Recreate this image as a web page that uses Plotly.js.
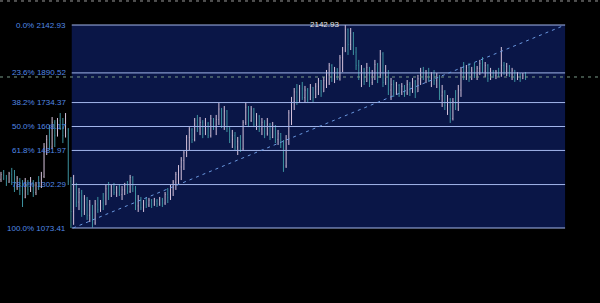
<!DOCTYPE html>
<html>
<head>
<meta charset="utf-8">
<script src="https://cdn.plot.ly/plotly-3.0.1.min.js"></script>
<style>html,body{margin:0;padding:0;background:#000;}#chart{width:600px;height:303px;}</style>
</head>
<body>
<div id="chart"></div>
<script>
// ---- data ----
const openP = [
1330,1350,1335,1315,1355,1320,1290,1330,1300,1235,
1305,1275,1320,1260,1300,1290,1345,1500,1540,1500,
1630,1560,1640,1600,1560,1590,1320,1160,1290,1210,
1255,1165,1225,1140,1190,1100,1195,1170,1205,1195,
1280,1240,1290,1260,1285,1250,1275,1300,1265,1340,
1280,1190,1220,1180,1205,1195,1220,1195,1215,1200,
1225,1205,1250,1235,1285,1315,1355,1395,1430,1470,
1550,1590,1540,1640,1600,1630,1570,1625,1560,1650,
1605,1645,1700,1620,1690,1600,1540,1560,1500,1530,
1490,1630,1710,1640,1700,1620,1660,1595,1630,1570,
1620,1550,1610,1540,1570,1510,1400,1540,1680,1740,
1790,1745,1810,1760,1800,1750,1815,1760,1820,1850,
1790,1850,1880,1930,1870,1910,1860,1970,2010,2120,
2040,2100,2000,1930,1880,1910,1845,1920,1840,1890,
1935,1870,1990,1840,1900,1800,1830,1785,1825,1790,
1820,1785,1830,1795,1845,1790,1860,1900,1870,1890,
1860,1880,1850,1870,1770,1790,1720,1750,1650,1740,
1700,1800,1900,1870,1920,1860,1905,1880,1915,1940,
1900,1930,1860,1895,1875,1895,1880,1930,1900,1925,
1885,1905,1865,1880,1860,1875];
const highP = [
1369,1379,1353,1369,1390,1379,1347,1337,1326,1337,
1326,1342,1326,1316,1347,1369,1521,1563,1616,1658,
1642,1653,1679,1653,1679,1600,1342,1353,1311,1284,
1274,1247,1237,1221,1195,1221,1237,1221,1258,1300,
1316,1300,1311,1295,1305,1295,1311,1321,1353,1347,
1295,1247,1237,1221,1237,1232,1226,1232,1226,1237,
1232,1263,1284,1300,1326,1369,1405,1447,1484,1563,
1605,1600,1653,1669,1658,1642,1653,1632,1669,1653,
1669,1732,1706,1716,1695,1605,1590,1579,1553,1563,
1642,1737,1716,1716,1706,1679,1669,1653,1642,1653,
1627,1632,1616,1590,1574,1537,1563,1695,1764,1811,
1832,1827,1843,1822,1811,1832,1816,1837,1864,1853,
1869,1906,1943,1937,1922,1916,1985,2027,2142.93,2125,
2127,2106,2027,1959,1932,1917,1943,1922,1906,1959,
1943,2011,2000,1932,1906,1864,1853,1843,1832,1837,
1827,1853,1843,1864,1853,1880,1917,1922,1906,1917,
1895,1906,1890,1880,1827,1800,1774,1758,1758,1800,
1827,1922,1948,1932,1943,1922,1943,1927,1959,1974,
1948,1937,1917,1906,1906,1917,2027,1948,1943,1932,
1917,1906,1895,1890,1890,1895];
const lowP = [
1316,1326,1295,1311,1300,1263,1274,1247,1184,1230,
1247,1263,1237,1247,1274,1284,1337,1458,1484,1490,
1500,1555,1590,1521,1550,1300,1073.41,1090,1184,1168,
1132,1142,1116,1105,1076,1090,1153,1158,1168,1195,
1221,1237,1247,1237,1242,1221,1247,1253,1258,1263,
1168,1158,1168,1158,1179,1184,1179,1190,1184,1190,
1184,1195,1205,1221,1242,1274,1300,1326,1379,1447,
1484,1521,1530,1579,1563,1547,1563,1547,1550,1590,
1563,1616,1600,1590,1579,1521,1495,1484,1458,1474,
1480,1616,1605,1632,1605,1590,1579,1563,1547,1560,
1537,1547,1521,1511,1495,1369,1390,1511,1616,1695,
1722,1732,1748,1732,1737,1748,1737,1758,1774,1764,
1790,1811,1827,1843,1837,1853,1850,1895,2000,1985,
2011,1985,1906,1853,1816,1827,1843,1816,1827,1853,
1837,1864,1816,1827,1774,1748,1764,1774,1764,1774,
1764,1774,1769,1785,1758,1790,1827,1853,1837,1843,
1816,1827,1811,1748,1711,1695,1669,1627,1640,1695,
1690,1764,1853,1853,1843,1853,1864,1853,1880,1890,
1869,1843,1853,1864,1858,1869,1870,1880,1874,1869,
1853,1843,1853,1843,1858,1853];
const closeP = [
1355,1335,1310,1360,1320,1290,1335,1270,1230,1310,
1275,1320,1260,1300,1290,1350,1500,1540,1500,1630,
1560,1640,1600,1560,1660,1320,1160,1300,1210,1260,
1160,1230,1140,1195,1100,1200,1170,1210,1190,1280,
1235,1290,1260,1285,1250,1275,1300,1265,1340,1280,
1190,1220,1180,1205,1195,1220,1195,1215,1200,1225,
1205,1250,1235,1285,1315,1355,1395,1430,1470,1550,
1590,1540,1640,1600,1630,1570,1625,1560,1650,1605,
1645,1700,1620,1690,1600,1540,1560,1500,1530,1490,
1630,1710,1640,1700,1620,1660,1595,1630,1570,1620,
1550,1610,1540,1570,1510,1400,1540,1680,1740,1790,
1745,1810,1760,1800,1750,1815,1760,1820,1850,1790,
1850,1880,1930,1870,1910,1860,1970,2010,2120,2040,
2100,2000,1930,1880,1910,1845,1920,1840,1890,1935,
1870,1990,1840,1900,1800,1830,1785,1825,1790,1820,
1785,1830,1795,1845,1790,1860,1900,1870,1890,1860,
1880,1850,1870,1770,1790,1720,1750,1650,1740,1700,
1800,1900,1870,1920,1860,1905,1880,1915,1940,1900,
1930,1860,1895,1875,1895,1880,1930,1900,1925,1885,
1905,1865,1880,1860,1875,1869];

const fibRatios = [0.0, 23.6, 38.2, 50.0, 61.8, 78.6, 100.0];
const fibPrices = [2142.93, 1890.52, 1734.37, 1608.17, 1481.97, 1302.29, 1073.41];
const fibHigh = 2142.93;
const fibLow = 1073.41;
const lastPrice = 1869;

// ---- layout constants ----
const fibStart = 26.3;   // bar-index position where fib box starts
const fibEnd = 209.7;    // bar-index position where fib box ends
const xIdx = openP.map((_, i) => i);

const shapes = [];
shapes.push({type:'rect', xref:'x', yref:'y', x0:fibStart, x1:fibEnd, y0:fibLow, y1:fibHigh,
  fillcolor:'#0a1647', line:{width:0}, layer:'below'});
fibPrices.forEach(p => {
  shapes.push({type:'line', xref:'x', yref:'y', x0:fibStart, x1:fibEnd, y0:p, y1:p,
    line:{color:'#a3b6ec', width:1}});
});
shapes.push({type:'line', xref:'x', yref:'y', x0:fibStart+0.5, x1:fibEnd, y0:fibLow, y1:fibHigh,
  line:{color:'#6a98e0', width:1, dash:'3px,4px'}});
shapes.push({type:'line', xref:'paper', yref:'y', x0:0, x1:1, y0:lastPrice, y1:lastPrice,
  line:{color:'#7a9a88', width:1, dash:'3px,4px'}});
shapes.push({type:'line', xref:'paper', yref:'paper', x0:0, x1:1, y0:0.9967, y1:0.9967,
  line:{color:'#9a9a9a', width:1, dash:'3px,4px'}});

const annotations = fibRatios.map((r, k) => ({
  xref:'paper', yref:'y', x:67/600, y:fibPrices[k], xanchor:'right', yanchor:'middle',
  text: r.toFixed(1) + '% ' + fibPrices[k].toFixed(2), showarrow:false,
  font:{family:'Liberation Sans, Arial, sans-serif', size:8, color:'#5189e6'}, borderpad:0
}));
const hiIdx = highP.indexOf(Math.max(...highP));
annotations.push({xref:'x', yref:'y', x:hiIdx - 2, y:fibHigh, xanchor:'right', yanchor:'middle',
  text: fibHigh.toFixed(2), showarrow:false, yshift:1,
  font:{family:'Liberation Sans, Arial, sans-serif', size:8, color:'#e6e6e6'}, borderpad:0});

const trace = {
  type:'ohlc', x:xIdx, open:openP, high:highP, low:lowP, close:closeP,
  increasing:{line:{color:'#d6c3dc', width:1}},
  decreasing:{line:{color:'#3d93a0', width:1}},
  tickwidth:0.12, hoverinfo:'skip', showlegend:false
};

const layout = {
  width:600, height:303,
  margin:{l:0, r:0, t:0, b:0},
  paper_bgcolor:'#000000', plot_bgcolor:'#000000',
  xaxis:{range:[-0.372, 222.68], visible:false, fixedrange:true, rangeslider:{visible:false}},
  yaxis:{range:[678.27, 2274.64], visible:false, fixedrange:true},
  shapes:shapes, annotations:annotations, showlegend:false
};

Plotly.newPlot('chart', [trace], layout, {displayModeBar:false, staticPlot:true});
</script>
</body>
</html>
